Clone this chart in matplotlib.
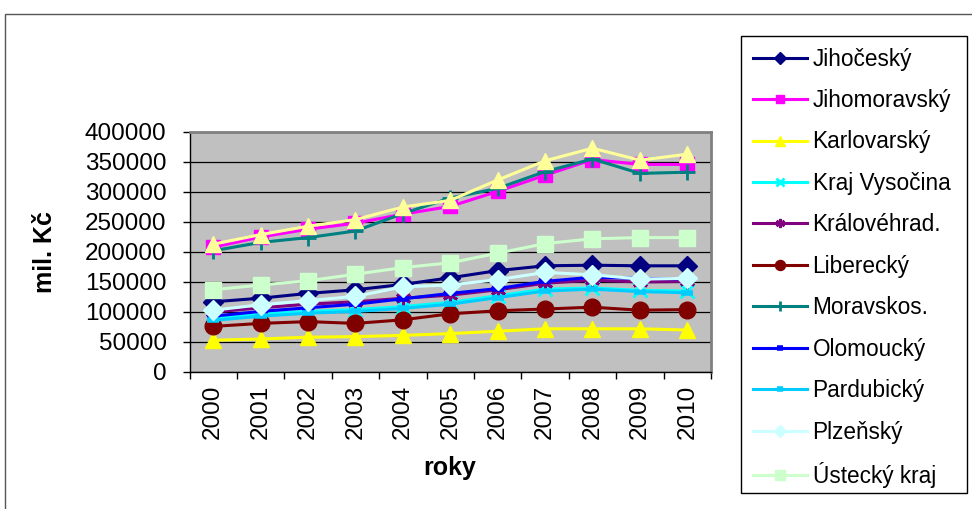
import numpy as np
import matplotlib
matplotlib.use('Agg')
import matplotlib.pyplot as plt
from matplotlib.patches import Rectangle

plt.rcParams['font.family'] = ['Liberation Sans', 'DejaVu Sans']

years = ['2000', '2001', '2002', '2003', '2004', '2005', '2006', '2007', '2008', '2009', '2010']

# values in mil. Kč
jihocesky     = [117000, 123000, 131000, 137000, 146000, 157000, 169000, 177000, 178000, 177000, 177000]
jihomoravsky  = [208000, 225000, 238000, 248000, 263000, 276000, 301000, 328000, 354000, 346000, 346000]
karlovarsky   = [53000, 55000, 58000, 59000, 61000, 64000, 68000, 72000, 72000, 72000, 70000]
vysocina      = [90000, 97000, 101000, 104000, 109000, 116000, 127000, 138000, 140000, 136000, 135000]
kralovehrad   = [100000, 107000, 113000, 117000, 123000, 128000, 137000, 148000, 153000, 150000, 151000]
liberecky     = [76000, 81000, 84000, 81000, 87000, 97000, 102000, 105000, 108000, 103000, 104000]
moravskos     = [202000, 216000, 224000, 235000, 264000, 290000, 306000, 334000, 355000, 331000, 333000]
olomoucky     = [93000, 101000, 107000, 113000, 122000, 131000, 139000, 151000, 158000, 156000, 155000]
pardubicky    = [86000, 93000, 98000, 101000, 106000, 113000, 124000, 135000, 138000, 134000, 132000]
plzensky      = [103000, 112000, 119000, 126000, 142000, 145000, 154000, 166000, 162000, 155000, 156000]
ustecky       = [137000, 145000, 152000, 163000, 174000, 182000, 198000, 214000, 222000, 224000, 224000]
stredocesky   = [213000, 229000, 243000, 254000, 275000, 286000, 320000, 352000, 373000, 353000, 363000]

names = ['Jihočeský', 'Jihomoravský', 'Karlovarský', 'Kraj Vysočina', 'Královéhrad.',
         'Liberecký', 'Moravskos.', 'Olomoucký', 'Pardubický', 'Plzeňský', 'Ústecký kraj',
         '_Středočeský']
series = [jihocesky, jihomoravsky, karlovarsky, vysocina, kralovehrad, liberecky,
          moravskos, olomoucky, pardubicky, plzensky, ustecky, stredocesky]
colors = ['#000080', '#FF00FF', '#FFFF00', '#00FFFF', '#800080', '#800000',
          '#008080', '#0000FF', '#00CCFF', '#CCFFFF', '#CCFFCC', '#FFFF99']
markers = ['D', 's', '^', 'x', (6, 2, 0), 'o', '+', '_', '_', 'D', 's', '^']
msizes = [10, 10, 12, 10, 11, 12, 12, 8, 8, 10, 11, 12]

fig = plt.figure(figsize=(9.72, 5.09), dpi=100)
fig.patch.set_facecolor('white')

# chart area border
fig.patches.append(Rectangle((5/972, -0.02), 1.0, 1 - 14/509 + 0.02, transform=fig.transFigure,
                             fill=False, edgecolor='#555555', lw=1.0))

ax = fig.add_axes([189.5/972, 1 - 372/509, 521.5/972, 240/509])
ax.set_facecolor('#C0C0C0')

x = np.arange(len(years))
handles = []
for vals, nm, c, m, ms in zip(series, names, colors, markers, msizes):
    mew = 1.0
    if m in ('x', '+') or isinstance(m, tuple):
        mew = 2.0
    if m == '_':
        mew = 4.0
    h, = ax.plot(x, vals, color=c, lw=2.2, marker=m, markersize=ms,
                 markerfacecolor=c, markeredgecolor=c, markeredgewidth=mew,
                 label=nm, clip_on=False)
    handles.append(h)

ax.set_xlim(-0.5, len(years) - 0.5)
ax.set_ylim(0, 400000)
ax.set_yticks(np.arange(0, 400001, 50000))
ax.set_yticklabels([str(v) for v in range(0, 400001, 50000)], fontsize=17.5)
ax.set_xticks(x)
ax.set_xticklabels(years, rotation=90, fontsize=17.5)
ax.set_xticks(np.arange(-0.5, len(years), 1.0), minor=True)
ax.tick_params(axis='x', which='major', length=0, pad=9)
ax.tick_params(axis='x', which='minor', length=5, width=1, direction='out')
ax.tick_params(axis='y', length=5, width=1, direction='out', pad=11.5)
ax.yaxis.grid(True, color='black', lw=0.9)
ax.set_axisbelow(True)
for s in ['left', 'bottom']:
    ax.spines[s].set_color('black')
    ax.spines[s].set_linewidth(1.0)
for s in ['top', 'right']:
    ax.spines[s].set_color('#808080')
    ax.spines[s].set_linewidth(2.0)

fig.text(45/972, 1 - 252/509, 'mil. Kč', rotation=90, ha='center', va='center',
         fontsize=18, fontweight='bold')
fig.text(450/972, 1 - 468/509, 'roky', ha='center', va='center',
         fontsize=18, fontweight='bold')

# legend box
fig.patches.append(Rectangle((741/972, 1 - 493/509), 226/972, (493 - 36)/509,
                             transform=fig.transFigure, fill=False, edgecolor='black', lw=1.0))
leg = fig.legend(handles=handles[:11], loc='upper left',
                 bbox_to_anchor=(748/972, 1 - 43/509), frameon=False, fontsize=16.3,
                 handlelength=2.4, handletextpad=0.25, labelspacing=0.815,
                 markerscale=0.6, borderpad=0.2, borderaxespad=0)

fig.savefig('out.png', dpi=100, facecolor='white')
